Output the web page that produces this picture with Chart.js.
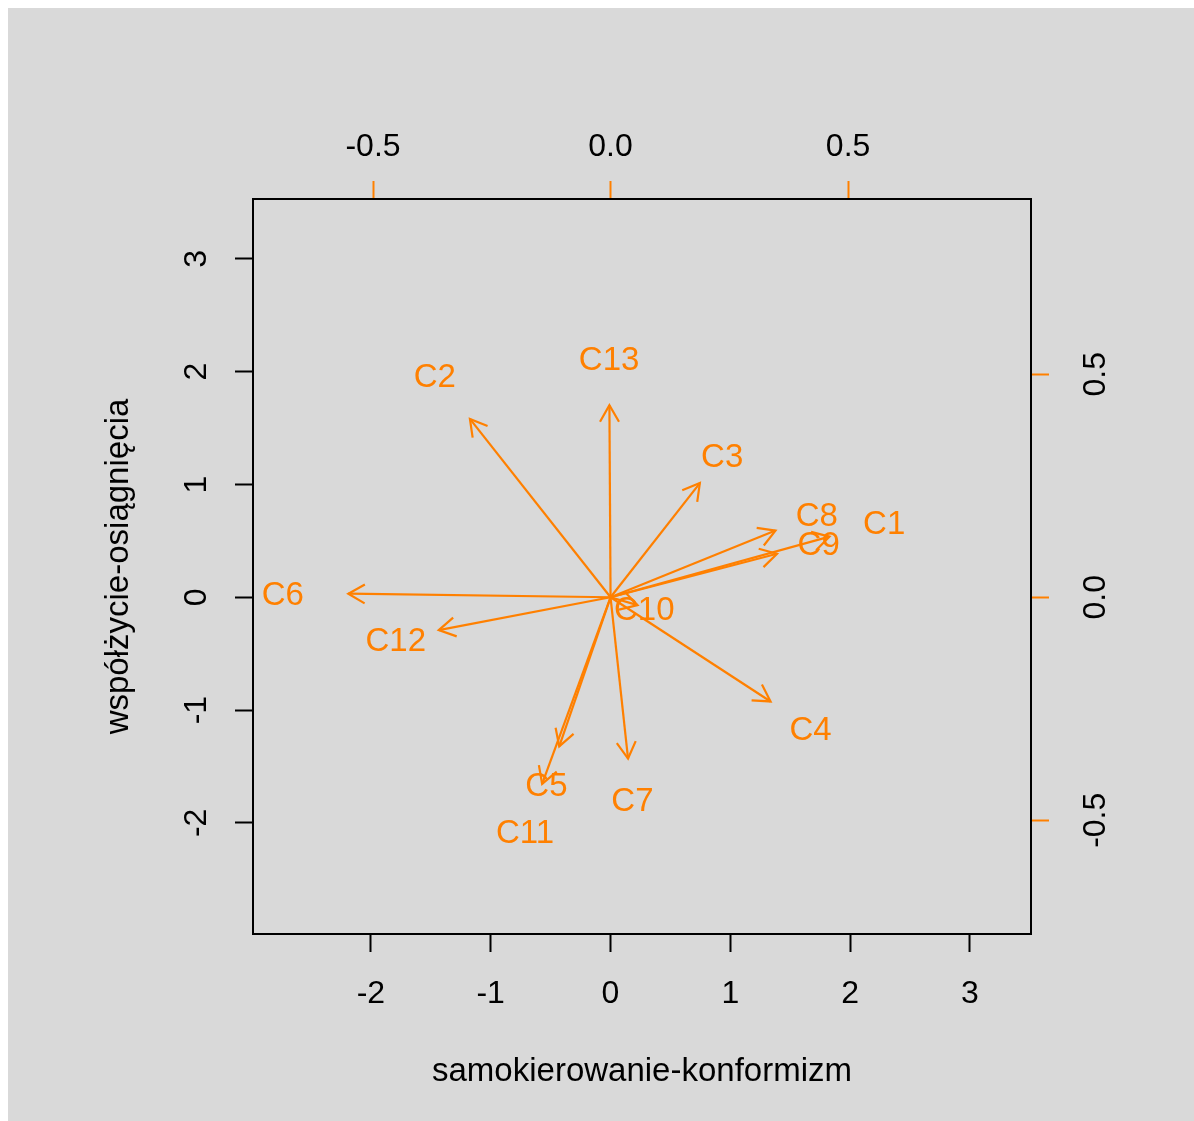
<!DOCTYPE html>
<html>
<head>
<meta charset="utf-8">
<script src="https://cdn.jsdelivr.net/npm/chart.js@4/dist/chart.umd.min.js"></script>
<style>
  html, body { margin: 0; padding: 0; background: #ffffff; }
  canvas { display: block; }
</style>
</head>
<body>
<canvas id="biplot" width="1194" height="1121"></canvas>
<script>
// variable loadings (top / right axis units), label sits at the loading, arrow at 0.8 of it
const varNames = ['C1', 'C2', 'C3', 'C4', 'C5', 'C6', 'C7', 'C8', 'C9', 'C10', 'C11', 'C12', 'C13'];
const loadX = [0.576, -0.370, 0.235, 0.421, -0.135, -0.690, 0.046, 0.434, 0.438, 0.071, -0.180, -0.452, -0.003];
const loadY = [0.170, 0.500, 0.320, -0.292, -0.418, 0.010, -0.452, 0.187, 0.122, -0.022, -0.523, -0.092, 0.538];
const arrowFrac = 0.8;

const bottomTicks = [-2, -1, 0, 1, 2, 3];
const leftTicks = [-2, -1, 0, 1, 2, 3];
const topTicks = [-0.5, 0.0, 0.5];
const rightTicks = [-0.5, 0.0, 0.5];

const xTitle = 'samokierowanie-konformizm';
const yTitle = 'współżycie-osiągnięcia';

const ORANGE = '#ff8000';
const FONT = '"Liberation Sans", Arial, sans-serif';

const datasets = varNames.map((name, i) => ({
  label: name,
  data: [{ x: 0, y: 0 }, { x: loadX[i] * arrowFrac, y: loadY[i] * arrowFrac }],
  xAxisID: 'x2',
  yAxisID: 'y2',
  showLine: true,
  borderColor: ORANGE,
  borderWidth: 2.2,
  pointRadius: 0,
  pointHoverRadius: 0
}));

function fixedTicks(values) {
  return scale => { scale.ticks = values.map(v => ({ value: v })); };
}

function axisOpts(position, min, max, ticks, color, size) {
  return {
    type: 'linear',
    position: position,
    min: min,
    max: max,
    afterBuildTicks: fixedTicks(ticks),
    afterFit: scale => {
      if (position === 'top' || position === 'bottom') scale.height = size;
      else scale.width = size;
    },
    ticks: { display: false },
    grid: {
      display: true,
      drawOnChartArea: false,
      drawTicks: true,
      tickLength: 18,
      tickColor: color,
      tickWidth: 2
    },
    border: { display: true, color: '#000000', width: 2 }
  };
}

const decor = {
  id: 'decor',
  beforeDraw(chart) {
    const ctx = chart.ctx;
    ctx.save();
    ctx.fillStyle = '#d9d9d9';
    ctx.fillRect(8, 8, chart.width - 8, chart.height - 8);
    ctx.restore();
  },
  afterDatasetsDraw(chart) {
    const ctx = chart.ctx;
    const s = chart.scales;
    ctx.save();

    // arrow heads
    ctx.strokeStyle = ORANGE;
    ctx.lineWidth = 2.2;
    chart.data.datasets.forEach((ds, i) => {
      const pts = chart.getDatasetMeta(i).data;
      const x0 = pts[0].x, y0 = pts[0].y, x1 = pts[1].x, y1 = pts[1].y;
      const ang = Math.atan2(y1 - y0, x1 - x0);
      const len = 19, spread = Math.PI / 6;
      ctx.beginPath();
      ctx.moveTo(x1 - len * Math.cos(ang - spread), y1 - len * Math.sin(ang - spread));
      ctx.lineTo(x1, y1);
      ctx.lineTo(x1 - len * Math.cos(ang + spread), y1 - len * Math.sin(ang + spread));
      ctx.stroke();
    });

    // variable labels
    ctx.fillStyle = ORANGE;
    ctx.font = '33px ' + FONT;
    ctx.textAlign = 'center';
    ctx.textBaseline = 'middle';
    varNames.forEach((name, i) => {
      ctx.fillText(name, s.x2.getPixelForValue(loadX[i]), s.y2.getPixelForValue(loadY[i]) + 3.5);
    });

    // tick labels
    ctx.fillStyle = '#000000';
    ctx.font = '32px ' + FONT;
    bottomTicks.forEach(v => ctx.fillText(String(v), s.x.getPixelForValue(v), 994.5));
    topTicks.forEach(v => ctx.fillText(v.toFixed(1), s.x2.getPixelForValue(v), 147.5));
    leftTicks.forEach(v => {
      ctx.save();
      ctx.translate(197, s.y.getPixelForValue(v));
      ctx.rotate(-Math.PI / 2);
      ctx.fillText(String(v), 0, 0);
      ctx.restore();
    });
    rightTicks.forEach(v => {
      ctx.save();
      ctx.translate(1096, s.y2.getPixelForValue(v));
      ctx.rotate(-Math.PI / 2);
      ctx.fillText(v.toFixed(1), 0, 0);
      ctx.restore();
    });

    // axis titles
    const ca = chart.chartArea;
    ctx.font = '33px ' + FONT;
    ctx.textBaseline = 'alphabetic';
    ctx.fillText(xTitle, (ca.left + ca.right) / 2, 1081);
    ctx.save();
    ctx.translate(128, (ca.top + ca.bottom) / 2);
    ctx.rotate(-Math.PI / 2);
    ctx.fillText(yTitle, 0, 0);
    ctx.restore();

    ctx.restore();
  }
};

new Chart(document.getElementById('biplot').getContext('2d'), {
  type: 'scatter',
  data: { datasets: datasets },
  options: {
    responsive: false,
    animation: false,
    devicePixelRatio: 1,
    layout: { padding: 0 },
    plugins: {
      legend: { display: false },
      tooltip: { enabled: false }
    },
    scales: {
      x: axisOpts('bottom', -2.984, 3.510, bottomTicks, '#000000', 187),
      y: axisOpts('left', -2.985, 3.531, leftTicks, '#000000', 253),
      x2: axisOpts('top', -0.7526, 0.885, topTicks, ORANGE, 199),
      y2: axisOpts('right', -0.755, 0.893, rightTicks, ORANGE, 163)
    }
  },
  plugins: [decor]
});
</script>
</body>
</html>
